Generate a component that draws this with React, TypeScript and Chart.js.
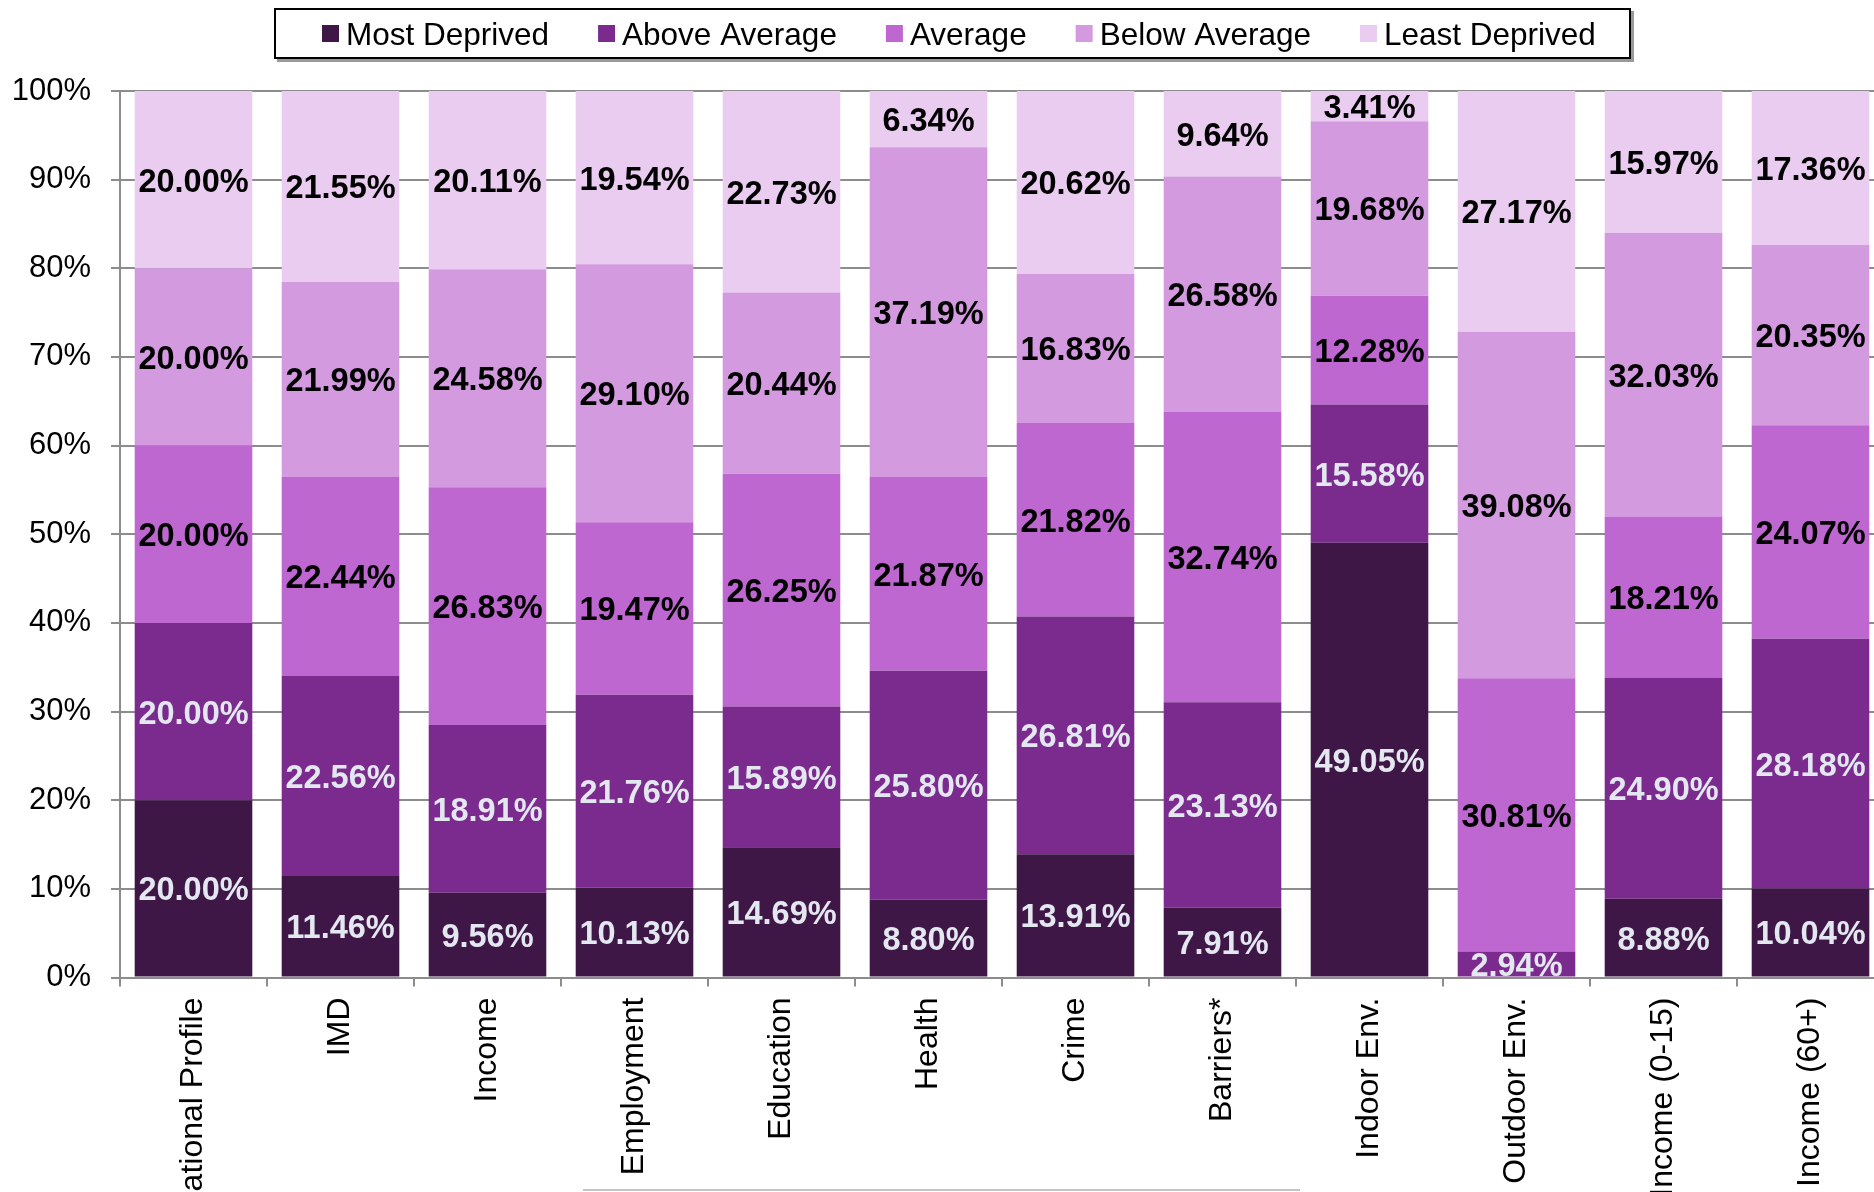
import React, { useEffect, useRef } from "react";
import { Chart, registerables } from "chart.js";

Chart.register(...registerables);

const categories = [
  "National Profile",
  "IMD",
  "Income",
  "Employment",
  "Education",
  "Health",
  "Crime",
  "Barriers*",
  "Indoor Env.",
  "Outdoor Env.",
  "Income (0-15)",
  "Income (60+)",
];

const seriesNames = ["Most Deprived", "Above Average", "Average", "Below Average", "Least Deprived"];

const mostDeprived = [20.0, 11.46, 9.56, 10.13, 14.69, 8.8, 13.91, 7.91, 49.05, 0, 8.88, 10.04];
const aboveAverage = [20.0, 22.56, 18.91, 21.76, 15.89, 25.8, 26.81, 23.13, 15.58, 2.94, 24.9, 28.18];
const average = [20.0, 22.44, 26.83, 19.47, 26.25, 21.87, 21.82, 32.74, 12.28, 30.81, 18.21, 24.07];
const belowAverage = [20.0, 21.99, 24.58, 29.1, 20.44, 37.19, 16.83, 26.58, 19.68, 39.08, 32.03, 20.35];
const leastDeprived = [20.0, 21.55, 20.11, 19.54, 22.73, 6.34, 20.62, 9.64, 3.41, 27.17, 15.97, 17.36];

const yTickValues = [0, 10, 20, 30, 40, 50, 60, 70, 80, 90, 100];

const seriesColors = ["#3F1747", "#7B2A8E", "#BE67D0", "#D39ADF", "#EACCF1"];
const labelColors = ["#E3E7F0", "#E3E7F0", "#000000", "#000000", "#000000"];

const FONT = "'Liberation Sans', Arial, Helvetica, sans-serif";
const GRID = "#8c8c8c";

const CANVAS_W = 1908;
const CANVAS_H = 1260;

const dataLabelPlugin = {
  id: "dataLabels",
  afterDatasetsDraw(chart: any) {
    const ctx = chart.ctx;
    ctx.save();
    ctx.font = `bold 32.5px ${FONT}`;
    ctx.textAlign = "center";
    ctx.textBaseline = "middle";
    chart.data.datasets.forEach((ds: any, di: number) => {
      const meta = chart.getDatasetMeta(di);
      meta.data.forEach((el: any, i: number) => {
        const v = ds.data[i];
        if (!v) return;
        const y = (el.y + el.base) / 2;
        ctx.fillStyle = labelColors[di];
        ctx.fillText(v.toFixed(2) + "%", el.x, y + 3);
      });
    });
    ctx.restore();
  },
};

const legendPlugin = {
  id: "customLegend",
  afterDraw(chart: any) {
    const ctx = chart.ctx;
    ctx.save();
    // box with shadow
    ctx.fillStyle = "#9a9a9a";
    ctx.fillRect(277, 11, 1357, 51);
    ctx.fillStyle = "#ffffff";
    ctx.fillRect(274, 8, 1357, 51);
    ctx.strokeStyle = "#000000";
    ctx.lineWidth = 2;
    ctx.strokeRect(275, 9, 1355, 49);

    ctx.font = `31.5px ${FONT}`;
    ctx.textBaseline = "alphabetic";
    ctx.textAlign = "left";
    let x = 322;
    chart.data.datasets.forEach((ds: any) => {
      ctx.fillStyle = ds.backgroundColor;
      ctx.fillRect(x, 25, 17, 17);
      ctx.fillStyle = "#000000";
      const tx = x + 24;
      ctx.fillText(ds.label, tx, 45);
      x = tx + ctx.measureText(ds.label).width + 49;
    });

    // faint line at the very bottom of the picture
    ctx.strokeStyle = "#c4c4c4";
    ctx.lineWidth = 2;
    ctx.beginPath();
    ctx.moveTo(583, 1190);
    ctx.lineTo(1300, 1190);
    ctx.stroke();
    ctx.restore();
  },
};

export default function App() {
  const canvasRef = useRef<HTMLCanvasElement | null>(null);

  useEffect(() => {
    if (!canvasRef.current) return;
    const seriesData = [mostDeprived, aboveAverage, average, belowAverage, leastDeprived];
    const chart = new Chart(canvasRef.current, {
      type: "bar",
      data: {
        labels: categories,
        datasets: seriesNames.map((name, i) => ({
          label: name,
          data: seriesData[i],
          backgroundColor: seriesColors[i],
          borderWidth: 0,
          categoryPercentage: 1,
          barPercentage: 0.8,
        })),
      },
      options: {
        animation: false,
        responsive: true,
        maintainAspectRatio: false,
        devicePixelRatio: 1,
        layout: { padding: { top: 91, left: 0, right: 24, bottom: 0 } },
        plugins: {
          legend: { display: false },
          tooltip: { enabled: false },
          title: { display: false },
        },
        scales: {
          x: {
            stacked: true,
            offset: true,
            grid: {
              offset: true,
              drawOnChartArea: false,
              drawTicks: true,
              tickLength: 9,
              color: GRID,
              lineWidth: 2,
            },
            border: { display: true, color: GRID, width: 2 },
            ticks: {
              autoSkip: false,
              minRotation: 90,
              maxRotation: 90,
              padding: 11,
              color: "#000000",
              font: { family: FONT, size: 32 },
            },
            afterFit: (scale: any) => {
              scale.height = CANVAS_H - 977.5;
            },
          },
          y: {
            stacked: true,
            min: 0,
            max: 100,
            afterBuildTicks: (scale: any) => {
              scale.ticks = yTickValues.map((v) => ({ value: v }));
            },
            grid: { color: GRID, lineWidth: 2, tickLength: 9, drawTicks: true },
            border: { display: true, color: GRID, width: 2 },
            ticks: {
              padding: 20,
              color: "#000000",
              font: { family: FONT, size: 31 },
              callback: (v: any) => `${v}%`,
            },
            afterFit: (scale: any) => {
              scale.width = 120;
            },
          },
        },
      },
      plugins: [dataLabelPlugin, legendPlugin],
    });
    return () => chart.destroy();
  }, []);

  return (
    <div
      style={{
        position: "fixed",
        left: 0,
        top: 0,
        width: 1874,
        height: 1192,
        overflow: "hidden",
        background: "#ffffff",
      }}
    >
      <div style={{ position: "absolute", left: 0, top: 0, width: CANVAS_W, height: CANVAS_H }}>
        <canvas ref={canvasRef} />
      </div>
    </div>
  );
}
